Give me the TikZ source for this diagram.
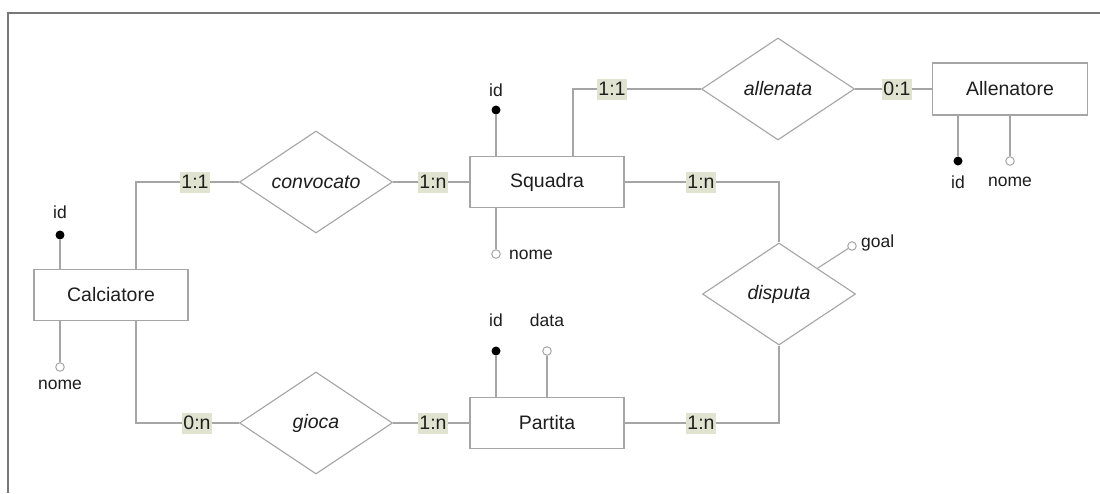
\documentclass[tikz,border=0pt]{standalone}
\usepackage{fontspec}
\setmainfont{Liberation Sans}
\usetikzlibrary{shapes.geometric}
\definecolor{lgrey}{RGB}{165,165,165}
\definecolor{fgrey}{RGB}{120,120,120}
\definecolor{cardfill}{RGB}{223,227,208}
\definecolor{txt}{RGB}{30,30,30}
\tikzset{
  entity/.style={draw=lgrey, line width=1.1pt, rectangle, minimum width=154pt, minimum height=51pt, inner sep=0pt, font=\fontsize{19.5}{22}\selectfont, text=txt},
  relation/.style={draw=lgrey, line width=1.1pt, diamond, minimum width=153pt, minimum height=102pt, inner sep=0pt, font=\fontsize{19.5}{22}\selectfont\itshape, text=txt},
  conn/.style={draw=lgrey, line width=1.1pt},
  card/.style={fill=cardfill, inner sep=1pt, font=\fontsize{19.5}{22}\selectfont, text=txt, minimum height=21pt},
  keydot/.style={circle, fill=black, inner sep=0pt, minimum size=9pt},
  attdot/.style={circle, draw=lgrey, fill=white, line width=1pt, inner sep=0pt, minimum size=8.5pt},
  attlabel/.style={inner sep=0pt, font=\fontsize{17.5}{20}\selectfont, text=txt},
}
\begin{document}
\begin{tikzpicture}[x=1pt,y=-1pt]
\useasboundingbox (0,0) rectangle (1100,493);
\fill[white] (0,0) rectangle (1100,493);
\draw[fgrey, line width=1.2pt] (1100,13) -- (8,13) -- (8,493);

% entities
\node[entity] (calc) at (111,295) {Calciatore};
\node[entity] (squadra) at (547,182) {Squadra};
\node[entity] (partita) at (547,423) {Partita};
\node[entity, minimum width=155pt, minimum height=52pt] (allen) at (1010,89) {Allenatore};

% relations
\node[relation] (conv) at (316,182) {convocato};
\node[relation] (gioca) at (316,423) {gioca};
\node[relation] (allena) at (778,89) {allenata};
\node[relation] (disputa) at (779,294) {disputa};

% connectors
\draw[conn] ([xshift=25pt]calc.north) |- (conv.west);
\draw[conn] (conv.east) -- (squadra.west);
\draw[conn] ([xshift=26pt]squadra.north) |- (allena.west);
\draw[conn] (allena.east) -- (allen.west);
\draw[conn] (squadra.east) -| (disputa.north);
\draw[conn] (partita.east) -| (disputa.south);
\draw[conn] ([xshift=25pt]calc.south) |- (gioca.west);
\draw[conn] (gioca.east) -- (partita.west);

% cardinalities
\node[card] (c1) at (195,182) {1:1};
\node[card] (c2) at (433,182) {1:n};
\node[card] (c3) at (612,89) {1:1};
\node[card] (c4) at (897,89) {0:1};
\node[card] (c5) at (701,182) {1:n};
\node[card] (c6) at (197,423) {0:n};
\node[card] (c7) at (433,423) {1:n};
\node[card] (c8) at (701,423) {1:n};

% attributes: Calciatore
\node[keydot] (calcid) at (60,235) {};
\node[attlabel] (calcidl) at (60,212) {id};
\draw[conn] (calcid) -- (calcid |- calc.north);
\node[attdot] (calcnome) at (60,367) {};
\node[attlabel] (calcnomel) at (60,385) {nome};
\draw[conn] (calcnome) -- (calcnome |- calc.south);

% attributes: Squadra
\node[keydot] (sqid) at (496,110) {};
\node[attlabel] (sqidl) at (496,90) {id};
\draw[conn] (sqid) -- (sqid |- squadra.north);
\node[attdot] (sqnome) at (496,254) {};
\node[attlabel, anchor=west] (sqnomel) at (509,255) {nome};
\draw[conn] (sqnome) -- (sqnome |- squadra.south);

% attributes: Allenatore
\node[keydot] (alid) at (958,161) {};
\node[attlabel] (alidl) at (958,182) {id};
\draw[conn] (alid) -- (alid |- allen.south);
\node[attdot] (alnome) at (1010,161) {};
\node[attlabel] (alnomel) at (1010,182) {nome};
\draw[conn] (alnome) -- (alnome |- allen.south);

% attributes: Partita
\node[keydot] (paid) at (496,351) {};
\node[attlabel] (paidl) at (496,320) {id};
\draw[conn] (paid) -- (paid |- partita.north);
\node[attdot] (padata) at (547,351) {};
\node[attlabel] (padatal) at (547,320) {data};
\draw[conn] (padata) -- (padata |- partita.north);

% attribute: disputa
\node[attdot] (goal) at (852,246) {};
\node[attlabel, anchor=west] (goall) at (861,243) {goal};
\draw[conn] (goal) -- (disputa.north east);
\end{tikzpicture}
\end{document}
